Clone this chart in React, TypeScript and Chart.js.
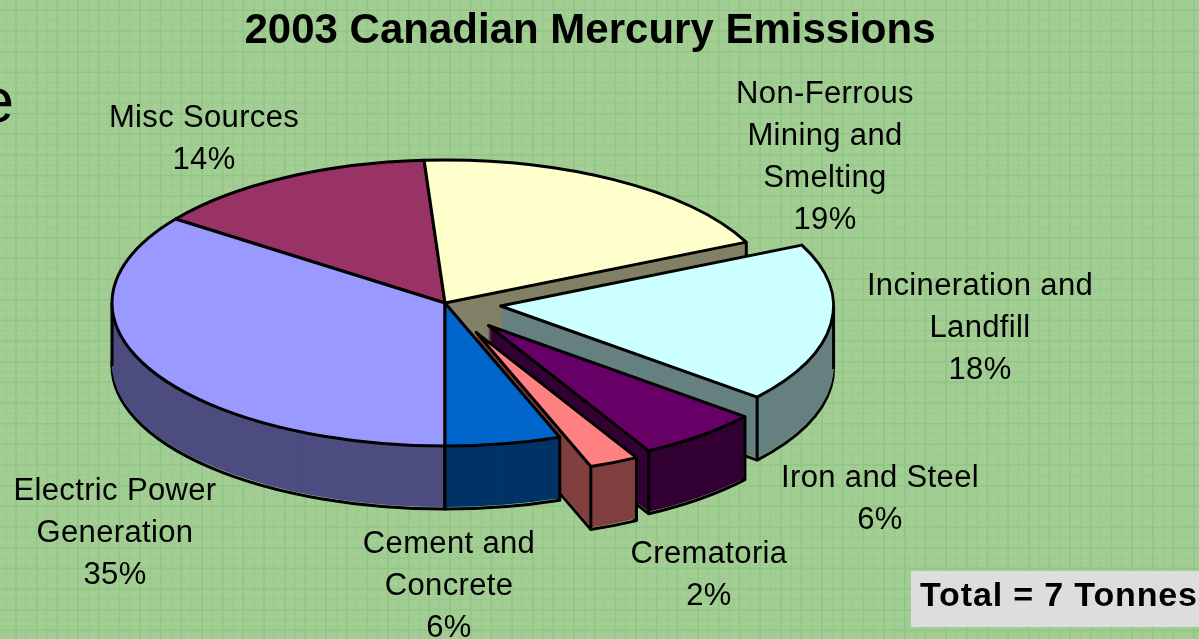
import React, { useEffect, useRef } from "react";
import { Chart, registerables } from "chart.js";

Chart.register(...registerables);

const categories = ["Non-Ferrous Mining and Smelting", "Incineration and Landfill", "Iron and Steel", "Crematoria", "Cement and Concrete", "Electric Power Generation", "Misc Sources"];
const shares = [19, 18, 6, 2.4, 5.6, 35, 14];
const topColors = ["#FFFFCC", "#CCFFFF", "#660066", "#FF8080", "#0066CC", "#9999FF", "#993366"];
const wallColors = ["#808066", "#668080", "#330033", "#804040", "#003366", "#4D4D80", "#4D1A33"];
const explode = [0, 56, 68, 75, 0, 0, 0];
const paintGroups = [[6, 0], [1], [2], [3], [5, 4]];

const titleText = "2003 Canadian Mercury Emissions";
const totalText = "Total = 7 Tonnes";
const labelLines = [
  ["Non-Ferrous", "Mining and", "Smelting", "19%"],
  ["Incineration and", "Landfill", "18%"],
  ["Iron and Steel", "6%"],
  ["Crematoria", "2%"],
  ["Cement and", "Concrete", "6%"],
  ["Electric Power", "Generation", "35%"],
  ["Misc Sources", "14%"],
];
const labelAnchors = [[825, 94], [980, 286], [880, 478], [709, 554], [449, 544], [115, 491], [204, 118]];

const CENTER_X = 445;
const CENTER_Y = 303;
const RADIUS = 333;
const SQUASH = 143 / 333;
const DEPTH = 63;
const LINE = 3;
const FONT = '"Liberation Sans", Arial, sans-serif';

function makeDither(): HTMLCanvasElement {
  const c = document.createElement("canvas");
  c.width = 4;
  c.height = 4;
  const g = c.getContext("2d")!;
  g.fillStyle = "#A5CF95";
  g.fillRect(0, 0, 4, 4);
  g.fillStyle = "#A0CC91";
  g.fillRect(0, 0, 2, 2);
  g.fillRect(2, 2, 2, 2);
  return c;
}

const pie3d = {
  id: "pie3d",
  beforeDraw(chart: any) {
    const ctx = chart.ctx as CanvasRenderingContext2D;
    ctx.save();
    ctx.fillStyle = ctx.createPattern(makeDither(), "repeat")!;
    ctx.fillRect(0, 0, chart.width, chart.height);
    const step = 20.67;
    const rule = (color: string, width: number, x0: number, y0: number) => {
      ctx.strokeStyle = color;
      ctx.lineWidth = width;
      ctx.beginPath();
      for (let x = x0; x < chart.width; x += step) {
        ctx.moveTo(x, 0);
        ctx.lineTo(x, chart.height);
      }
      for (let y = y0; y < chart.height; y += step) {
        ctx.moveTo(0, y);
        ctx.lineTo(chart.width, y);
      }
      ctx.stroke();
    };
    rule("#98CA8B", 1.2, 5.7, 0);
    rule("#90C686", 1.6, 16, 10.3);
    ctx.restore();
  },
  beforeDatasetsDraw(chart: any) {
    const ctx = chart.ctx as CanvasRenderingContext2D;
    const arcs = chart.getDatasetMeta(0).data;
    ctx.save();
    ctx.strokeStyle = "#000";
    ctx.lineWidth = LINE;
    ctx.lineJoin = "round";
    const geometry = (i: number) => {
      const arc = arcs[i];
      const p = arc.getProps(["x", "y", "startAngle", "endAngle", "outerRadius"], true);
      const mid = (p.startAngle + p.endAngle) / 2;
      return {
        arc,
        ...p,
        sx: CENTER_X + Math.cos(mid) * explode[i],
        sy: CENTER_Y + Math.sin(mid) * explode[i] * SQUASH,
      };
    };
    const paint = (g: any, dy: number, color: string) => {
      const original = g.arc.options;
      g.arc.options = { ...original, backgroundColor: color, borderWidth: 0, offset: 0 };
      ctx.save();
      ctx.translate(g.sx, g.sy + dy);
      ctx.scale(1, SQUASH);
      ctx.translate(-g.x, -g.y);
      g.arc.draw(ctx);
      ctx.restore();
      g.arc.options = original;
    };
    const outline = (g: any, dy: number) => {
      ctx.save();
      ctx.translate(g.sx, g.sy + dy);
      ctx.scale(1, SQUASH);
      ctx.beginPath();
      ctx.moveTo(0, 0);
      ctx.arc(0, 0, g.outerRadius, g.startAngle, g.endAngle);
      ctx.closePath();
      ctx.restore();
      ctx.stroke();
    };
    paintGroups.forEach((group) => {
      const gs = group.map(geometry);
      gs.forEach((g, n) => {
        const i = group[n];
        outline(g, DEPTH);
        for (let dy = DEPTH - 2; dy >= 1; dy--) paint(g, dy, wallColors[i]);
        const edges = [g.startAngle, g.endAngle, ...[-Math.PI, 0, Math.PI, 2 * Math.PI].filter((a) => a > g.startAngle && a < g.endAngle)];
        ctx.beginPath();
        edges.forEach((a) => {
          const px = g.sx + Math.cos(a) * g.outerRadius;
          const py = g.sy + Math.sin(a) * g.outerRadius * SQUASH;
          ctx.moveTo(px, py);
          ctx.lineTo(px, py + DEPTH);
        });
        ctx.stroke();
      });
      gs.forEach((g, n) => {
        paint(g, 0, topColors[group[n]]);
        outline(g, 0);
      });
    });
    ctx.restore();
    return false;
  },
  afterDraw(chart: any) {
    const ctx = chart.ctx as CanvasRenderingContext2D;
    ctx.save();
    ctx.fillStyle = "#000";
    ctx.textBaseline = "middle";
    ctx.textAlign = "center";
    ctx.font = `bold 42px ${FONT}`;
    ctx.fillText(titleText, 590, 31);
    ctx.font = `31px ${FONT}`;
    (ctx as any).letterSpacing = "0.35px";
    labelLines.forEach((lines, i) => {
      lines.forEach((line, j) => {
        ctx.fillText(line, labelAnchors[i][0], labelAnchors[i][1] + j * 42);
      });
    });
    (ctx as any).letterSpacing = "0px";
    ctx.textAlign = "right";
    ctx.textBaseline = "alphabetic";
    ctx.font = `63px ${FONT}`;
    ctx.fillText("e", 14, 122);
    ctx.fillStyle = "#DDDDDD";
    ctx.fillRect(911, 571, 288, 56);
    ctx.fillStyle = "#000";
    ctx.textAlign = "left";
    ctx.textBaseline = "middle";
    ctx.font = `bold 34px ${FONT}`;
    (ctx as any).letterSpacing = "0.85px";
    ctx.fillText(totalText, 920, 597);
    ctx.restore();
  },
};

export default function App() {
  const ref = useRef<HTMLCanvasElement>(null);
  useEffect(() => {
    document.body.style.margin = "0";
    const chart = new Chart(ref.current!, {
      type: "pie",
      data: {
        labels: categories,
        datasets: [{ data: shares, backgroundColor: topColors, borderWidth: 0 }],
      },
      options: {
        responsive: false,
        animation: false,
        rotation: -3.6,
        radius: RADIUS,
        plugins: { legend: { display: false }, tooltip: { enabled: false }, title: { display: false } },
      },
      plugins: [pie3d],
    } as any);
    return () => chart.destroy();
  }, []);
  return <canvas ref={ref} width={1199} height={639} style={{ display: "block" }} />;
}
